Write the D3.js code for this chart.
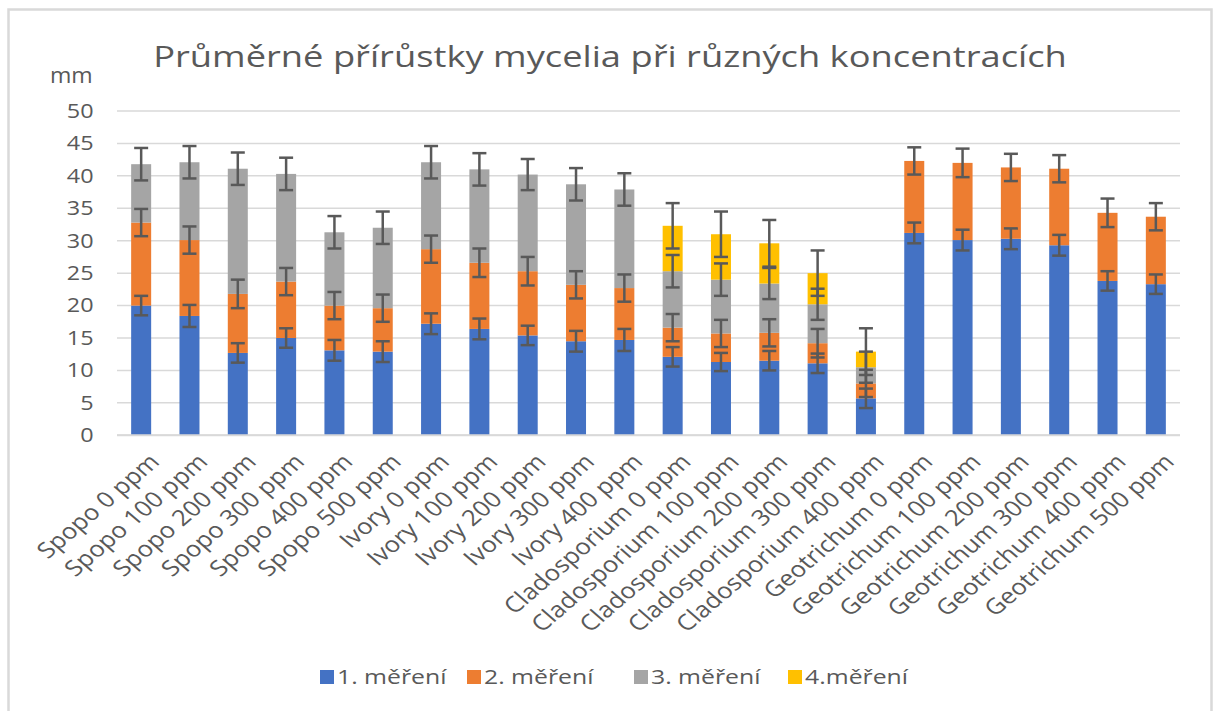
<!DOCTYPE html>
<html>
<head>
<meta charset="utf-8">
<script src="https://cdn.jsdelivr.net/npm/d3@7"></script>
<style>
    body { margin: 0; background: #fff; }
    text { font-family: "Open Sans", sans-serif; fill: #595959; }
</style>
</head>
<body>
<div id="chart"></div>
<script>
// categories on the x axis
var categories = [
    'Spopo 0 ppm', 'Spopo 100 ppm', 'Spopo 200 ppm', 'Spopo 300 ppm', 'Spopo 400 ppm', 'Spopo 500 ppm',
    'Ivory 0 ppm', 'Ivory 100 ppm', 'Ivory 200 ppm', 'Ivory 300 ppm', 'Ivory 400 ppm',
    'Cladosporium 0 ppm', 'Cladosporium 100 ppm', 'Cladosporium 200 ppm', 'Cladosporium 300 ppm', 'Cladosporium 400 ppm',
    'Geotrichum 0 ppm', 'Geotrichum 100 ppm', 'Geotrichum 200 ppm', 'Geotrichum 300 ppm', 'Geotrichum 400 ppm', 'Geotrichum 500 ppm'
]
var seriesNames = ['1. měření', '2. měření', '3. měření', '4.měření']

// increments per measurement (mm), null = not measured
var m1 = [20.0, 18.4, 12.7, 15.0, 13.1, 12.9, 17.2, 16.4, 15.4, 14.5, 14.7, 12.1, 11.3, 11.5, 11.1, 5.7, 31.2, 30.1, 30.3, 29.3, 23.8, 23.3]
var m2 = [12.8, 11.7, 9.1, 8.7, 6.9, 6.7, 11.5, 10.2, 9.9, 8.7, 8.0, 4.5, 4.4, 4.3, 3.1, 2.3, 11.1, 11.9, 11.0, 11.8, 10.5, 10.4]
var m3 = [9.0, 12.0, 19.3, 16.6, 11.3, 12.4, 13.4, 14.4, 14.9, 15.5, 15.2, 8.7, 8.3, 7.6, 6.0, 2.5, null, null, null, null, null, null]
var m4 = [null, null, null, null, null, null, null, null, null, null, null, 7.0, 7.0, 6.2, 4.8, 2.4, null, null, null, null, null, null]

// error bar half-lengths
var e1 = [1.5, 1.7, 1.5, 1.5, 1.6, 1.6, 1.6, 1.6, 1.5, 1.6, 1.7, 1.5, 1.4, 1.5, 1.5, 1.5, 1.6, 1.6, 1.6, 1.6, 1.5, 1.5]
var e2 = [2.1, 2.1, 2.2, 2.1, 2.1, 2.1, 2.1, 2.2, 2.2, 2.1, 2.1, 2.1, 2.1, 2.1, 2.2, 2.1, 2.1, 2.2, 2.1, 2.1, 2.2, 2.1]
var e3 = [2.5, 2.5, 2.5, 2.5, 2.5, 2.5, 2.5, 2.5, 2.4, 2.5, 2.5, 2.5, 2.5, 2.4, 2.4, 2.4, null, null, null, null, null, null]
var e4 = [null, null, null, null, null, null, null, null, null, null, null, 3.5, 3.5, 3.6, 3.5, 3.6, null, null, null, null, null, null]

var yTicks = [0, 5, 10, 15, 20, 25, 30, 35, 40, 45, 50]

var scheme = {
    blue: '#4472C4',
    orange: '#ED7D31',
    gray: '#A5A5A5',
    yellow: '#FFC000'
}

// the original screenshot is a bit stretched sideways, text follows that
var stretch = 1.17

function drawChart() {
    var width = 1217
    var height = 711
    var margin = {left: 117, right: 37, top: 111, bottom: 275.7}

    var values = [m1, m2, m3, m4]
    var errors = [e1, e2, e3, e4]
    var colors = Object.values(scheme)

    var svg = d3.select('#chart')
        .append('svg')
        .attr('width', width)
        .attr('height', height)

    // outer frame
    svg.append('rect')
        .attr('x', 8.5)
        .attr('y', 9.5)
        .attr('width', 1203)
        .attr('height', 720)
        .attr('fill', 'none')
        .attr('stroke', '#d9d9d9')
        .attr('stroke-width', 2.5)

    var x = d3.scaleBand()
        .domain(categories)
        .range([margin.left, width - margin.right])
        .paddingInner(0.586)
        .paddingOuter(0.293)

    var y = d3.scaleLinear()
        .domain([0, 50])
        .range([height - margin.bottom, margin.top])

    // gridlines
    svg.append('g')
        .selectAll('line')
        .data(yTicks)
        .enter()
        .append('line')
        .attr('x1', margin.left)
        .attr('x2', width - margin.right)
        .attr('y1', d => y(d))
        .attr('y2', d => y(d))
        .attr('stroke', '#d9d9d9')
        .attr('stroke-width', 1.5)

    var yAxis = svg.append('g')
        .attr('transform', `translate(${margin.left},0)`)
        .call(d3.axisLeft(y).tickValues(yTicks).tickSize(0).tickPadding(20))
    yAxis.select('.domain').remove()
    yAxis.selectAll('text')
        .attr('transform', `scale(${stretch},1)`)
        .style('font-size', '20px')

    // stack the series up
    var stacked = categories.map((c, i) => {
        var base = 0
        return values.map((s, k) => {
            var v = s[i]
            var seg = {cat: c, key: k, y0: base, y1: base + (v || 0), has: v != null, err: errors[k][i]}
            base = seg.y1
            return seg
        })
    })
    var segments = stacked.flat().filter(d => d.has)

    svg.append('g')
        .selectAll('rect')
        .data(segments)
        .enter()
        .append('rect')
        .attr('x', d => x(d.cat))
        .attr('width', x.bandwidth())
        .attr('y', d => y(d.y1))
        .attr('height', d => y(d.y0) - y(d.y1))
        .attr('fill', d => colors[d.key])

    // x axis line
    svg.append('line')
        .attr('x1', margin.left)
        .attr('x2', width - margin.right)
        .attr('y1', y(0))
        .attr('y2', y(0))
        .attr('stroke', '#d9d9d9')
        .attr('stroke-width', 2)

    // error bars
    var capW = 7
    var err = svg.append('g')
        .attr('stroke', '#595959')
        .attr('stroke-width', 2.5)
        .selectAll('g')
        .data(segments.filter(d => d.err != null))
        .enter()
        .append('g')
        .attr('transform', d => `translate(${x(d.cat) + x.bandwidth() / 2},0)`)
    err.append('line')
        .attr('y1', d => y(d.y1 - d.err))
        .attr('y2', d => y(d.y1 + d.err))
    err.append('line')
        .attr('x1', -capW).attr('x2', capW)
        .attr('y1', d => y(d.y1 + d.err))
        .attr('y2', d => y(d.y1 + d.err))
    err.append('line')
        .attr('x1', -capW).attr('x2', capW)
        .attr('y1', d => y(d.y1 - d.err))
        .attr('y2', d => y(d.y1 - d.err))

    // category labels, rotated
    svg.append('g')
        .selectAll('text')
        .data(categories)
        .enter()
        .append('text')
        .attr('transform', d => `translate(${x(d) + x.bandwidth() / 2 + 7},${y(0) + 17}) scale(${stretch},1) rotate(-45)`)
        .attr('text-anchor', 'end')
        .attr('dy', '0.7em')
        .style('font-size', '22px')
        .text(d => d)

    // title and unit
    svg.append('text')
        .attr('transform', `translate(610,67) scale(1.21,1)`)
        .attr('text-anchor', 'middle')
        .style('font-size', '30px')
        .text('Průměrné přírůstky mycelia při různých koncentracích')

    svg.append('text')
        .attr('transform', `translate(50,83) scale(1.1,1)`)
        .style('font-size', '21px')
        .text('mm')

    drawLegend(svg, seriesNames, colors)
}

function drawLegend(svg, names, colorScheme) {
    var xs = [320, 467, 634, 788]
    var legend = svg.append('g')
    names.forEach((name, i) => {
        legend.append('rect')
            .attr('x', xs[i])
            .attr('y', 670)
            .attr('width', 14)
            .attr('height', 14)
            .attr('fill', colorScheme[i])
        legend.append('text')
            .attr('transform', `translate(${xs[i] + 17},684) scale(1.24,1)`)
            .style('font-size', '20px')
            .text(name)
    })
}

drawChart()
</script>
</body>
</html>
